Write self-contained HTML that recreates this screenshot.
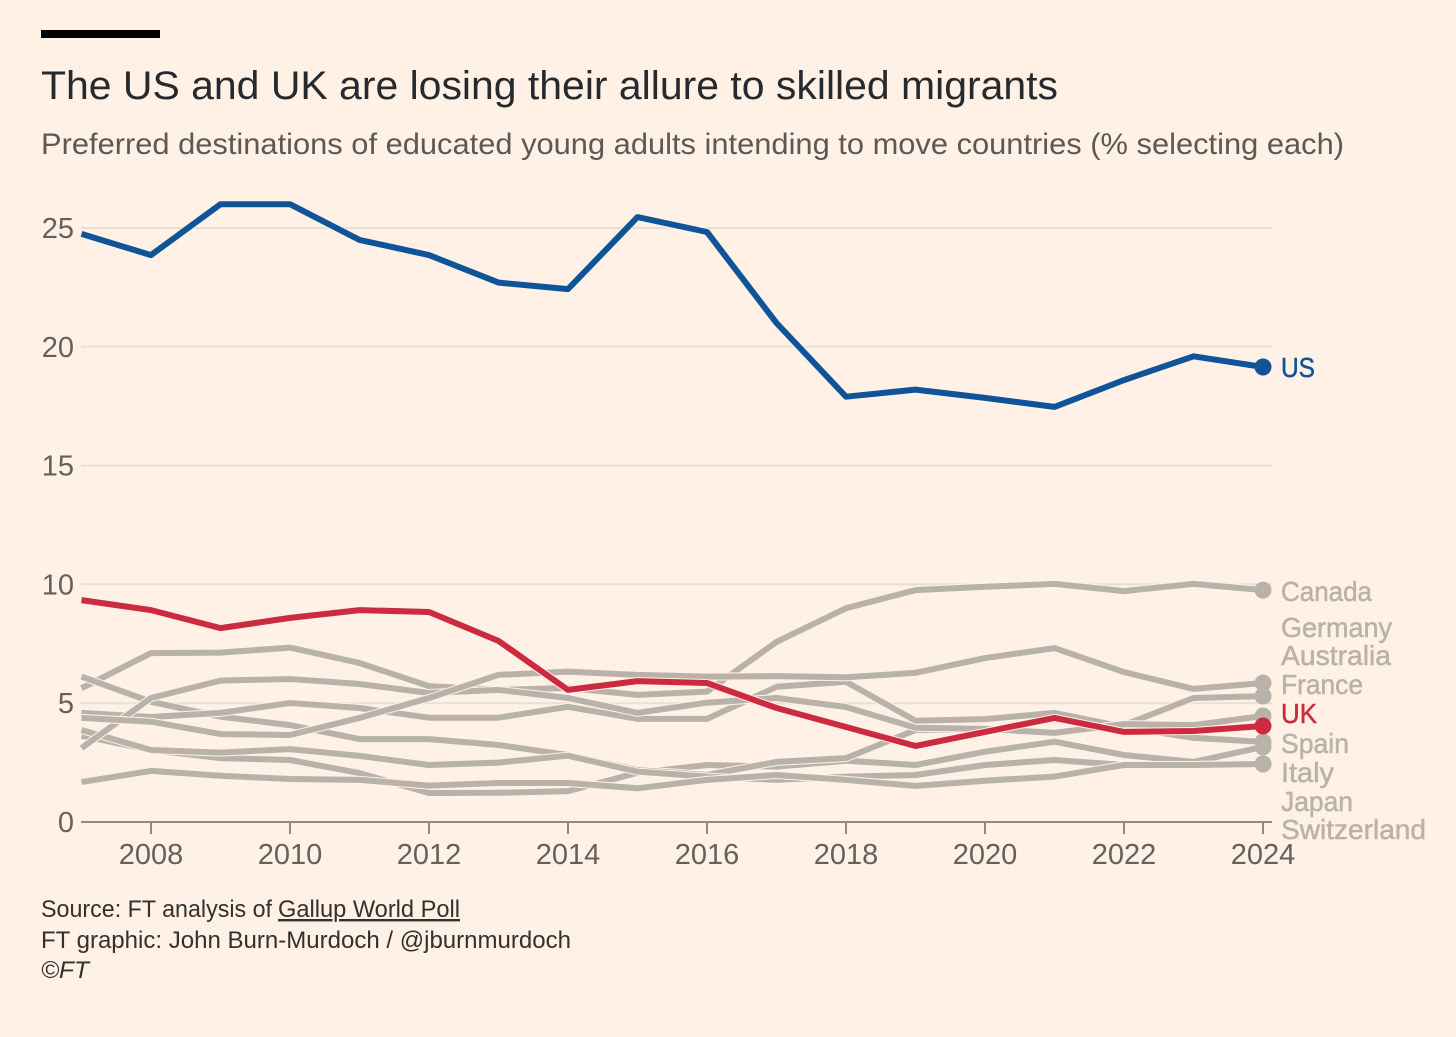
<!DOCTYPE html>
<html lang="en">
<head>
<meta charset="utf-8">
<title>The US and UK are losing their allure to skilled migrants</title>
<style>
html,body{margin:0;padding:0;background:#fff1e5;}
svg{display:block;font-family:"Liberation Sans",sans-serif;}
</style>
</head>
<body>
<svg id="chart" xmlns="http://www.w3.org/2000/svg" width="1456" height="1037" viewBox="0 0 1456 1037">
<rect x="0" y="0" width="1456" height="1037" fill="#fff1e5"/>
<rect x="41" y="30" width="119" height="8" fill="#000"/>
<text x="41" y="99" font-size="40" fill="#262a2e" textLength="1017" lengthAdjust="spacingAndGlyphs">The US and UK are losing their allure to skilled migrants</text>
<text x="41" y="154" font-size="30" fill="#5c5855" textLength="1303" lengthAdjust="spacingAndGlyphs">Preferred destinations of educated young adults intending to move countries (% selecting each)</text>
<g id="grid"></g>
<g id="yaxis"></g>
<g id="xaxis"></g>
<g id="series"></g>
<g id="labels"></g>
<text x="41" y="917" font-size="24" fill="#33302e" textLength="231" lengthAdjust="spacingAndGlyphs">Source: FT analysis of</text>
<text x="278" y="917" font-size="24" fill="#33302e" text-decoration="underline" textLength="182" lengthAdjust="spacingAndGlyphs">Gallup World Poll</text>
<text x="41" y="948" font-size="24" fill="#33302e" textLength="530" lengthAdjust="spacingAndGlyphs">FT graphic: John Burn-Murdoch / @jburnmurdoch</text>
<text x="41" y="978" font-size="24" font-style="italic" fill="#33302e" textLength="48" lengthAdjust="spacingAndGlyphs">©FT</text>
</svg>
<script>
const years = [2007,2008,2009,2010,2011,2012,2013,2014,2015,2016,2017,2018,2019,2020,2021,2022,2023,2024];
const yTicks = [0,5,10,15,20,25];
const xTicks = [2008,2010,2012,2014,2016,2018,2020,2022,2024];
const us = [24.75,23.86,26.0,26.0,24.5,23.86,22.7,22.43,25.46,24.83,21.0,17.9,18.2,17.85,17.47,18.6,19.6,19.15];
const uk = [9.34,8.92,8.16,8.59,8.92,8.84,7.62,5.56,5.93,5.85,4.8,4.0,3.2,3.79,4.38,3.79,3.83,4.04];
const canada = [5.63,7.11,7.13,7.34,6.69,5.72,5.56,5.64,5.35,5.49,7.58,9.0,9.76,9.9,10.02,9.72,10.02,9.76];
const germany = [4.38,4.22,3.70,3.66,4.38,5.22,6.19,6.33,6.19,6.12,6.14,6.09,6.28,6.9,7.32,6.31,5.6,5.85];
const australia = [6.12,5.06,4.43,4.08,3.49,3.49,3.24,2.82,2.19,1.98,2.53,2.69,3.87,3.91,3.75,4.08,5.22,5.3];
const france = [3.11,5.22,5.95,6.02,5.81,5.43,5.56,5.22,4.59,5.02,5.22,4.84,3.97,3.92,3.75,4.12,4.08,4.46];
const spain = [4.59,4.42,4.59,5.01,4.8,4.39,4.39,4.85,4.34,4.34,5.69,5.9,4.26,4.33,4.59,4.0,3.54,3.37];
const italy = [3.63,3.03,2.69,2.61,2.06,1.22,1.23,1.3,2.07,2.4,2.33,2.58,2.4,2.96,3.38,2.82,2.53,3.16];
const japan = [3.87,3.03,2.92,3.07,2.78,2.4,2.5,2.79,2.12,1.91,1.77,1.91,1.98,2.4,2.61,2.4,2.4,2.44];
const switzerland = [1.68,2.15,1.95,1.81,1.77,1.53,1.64,1.64,1.42,1.77,1.98,1.77,1.52,1.74,1.91,2.4,2.4,2.44];

const NS = 'http://www.w3.org/2000/svg';
const BG = '#fff1e5';
const GREY = '#b9b2aa';
const xScale = function (year) { return 151 + (year - 2008) * 69.5; };
const yScale = function (v) { return 822 - v * 23.76; };

function make(tag, attrs, parent) {
  const el = document.createElementNS(NS, tag);
  Object.keys(attrs).forEach(function (k) { el.setAttribute(k, attrs[k]); });
  parent.appendChild(el);
  return el;
}

const gridGroup = document.getElementById('grid');
const yAxisGroup = document.getElementById('yaxis');
const xAxisGroup = document.getElementById('xaxis');
const seriesGroup = document.getElementById('series');
const labelGroup = document.getElementById('labels');

yTicks.forEach(function (t) {
  if (t > 0) {
    const line = make('line', {x1: 81, x2: 1272, y1: yScale(t), y2: yScale(t), stroke: '#e9e0d5', 'stroke-width': 2}, gridGroup);
    
    
  }
  const label = make('text', {x: 74, y: yScale(t) + 10, 'font-size': 29, 'text-anchor': 'end', fill: '#66605c'}, yAxisGroup);
  label.textContent = t;
  
  
});

const baseline = make('line', {x1: 81, x2: 1272, y1: yScale(0), y2: yScale(0), stroke: '#8f8980', 'stroke-width': 2}, xAxisGroup);



xTicks.forEach(function (t) {
  const tick = make('line', {x1: xScale(t), x2: xScale(t), y1: yScale(0), y2: yScale(0) + 12, stroke: '#8f8980', 'stroke-width': 2}, xAxisGroup);
  
  
  const label = make('text', {x: xScale(t), y: 864, 'font-size': 29, 'text-anchor': 'middle', fill: '#66605c'}, xAxisGroup);
  label.textContent = t;
  
  
});

function drawSeries(name, values, color) {
  const d = values.map(function (v, i) {
    return (i ? 'L' : 'M') + xScale(years[i]).toFixed(1) + ' ' + yScale(v).toFixed(1);
  }).join(' ');
  const halo = make('path', {d: d, fill: 'none', stroke: BG, 'stroke-width': 8, 'stroke-linejoin': 'round'}, seriesGroup);
  
  
  const path = make('path', {d: d, fill: 'none', stroke: color, 'stroke-width': 6, 'stroke-linejoin': 'round'}, seriesGroup);
  
  
  const last = values.length - 1;
  const dot = make('circle', {cx: xScale(years[last]), cy: yScale(values[last]), r: 8.5, fill: color}, seriesGroup);
  
  
}

drawSeries('italy', italy, GREY);
drawSeries('canada', canada, GREY);
drawSeries('australia', australia, GREY);
drawSeries('spain', spain, GREY);
drawSeries('japan', japan, GREY);
drawSeries('france', france, GREY);
drawSeries('germany', germany, GREY);
drawSeries('switzerland', switzerland, GREY);
drawSeries('us', us, '#0f5499');
drawSeries('uk', uk, '#cc2b3f');

function drawLabel(text, y, width, color) {
  const label = make('text', {x: 1281, y: y, 'font-size': 28, fill: color, stroke: color, 'stroke-width': 0.5, textLength: width, lengthAdjust: 'spacingAndGlyphs'}, labelGroup);
  label.textContent = text;
  
  
}

drawLabel('US', 377, 34, '#0f5499');
drawLabel('Canada', 601, 91, GREY);
drawLabel('Germany', 637, 111, GREY);
drawLabel('Australia', 665, 110, GREY);
drawLabel('France', 694, 82, GREY);
drawLabel('UK', 723, 36, '#cc2b3f');
drawLabel('Spain', 753, 68, GREY);
drawLabel('Italy', 782, 53, GREY);
drawLabel('Japan', 811, 72, GREY);
drawLabel('Switzerland', 839, 145, GREY);
</script>
</body>
</html>
